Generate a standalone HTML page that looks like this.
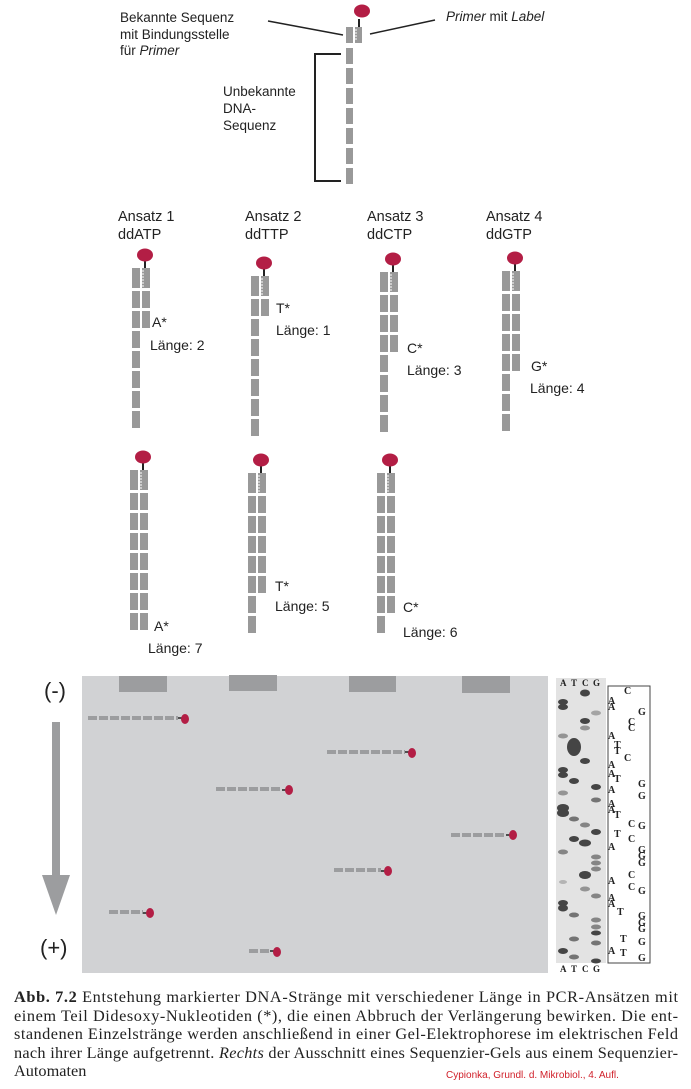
<!DOCTYPE html>
<html><head><meta charset="utf-8"><style>
html,body{margin:0;padding:0;background:#fff;}
svg{display:block;}
.s{font-family:"Liberation Sans",sans-serif;fill:#222;}
.r{font-family:"Liberation Serif",serif;fill:#222;}
</style></head><body>
<svg width="691" height="1089" viewBox="0 0 691 1089" xmlns="http://www.w3.org/2000/svg">
<defs>
<g id="p">
  <line x1="13" y1="-8" x2="13" y2="0" stroke="#222" stroke-width="2"/>
  <ellipse cx="13" cy="-13" rx="8" ry="6.5" fill="#b31e45"/>
  <rect x="0" y="0" width="8" height="20" fill="#999"/>
  <rect x="10" y="0" width="8" height="20" fill="#999"/>
  <path d="M10 3h2M10 6h2M10 9h2M10 12h2M10 15h2M10 18h2" stroke="#fff" stroke-width="1"/>
</g>
<rect id="t" x="0" y="0" width="8" height="17" fill="#999"/>
<g id="col7">
  <use href="#t" y="23"/><use href="#t" y="43"/><use href="#t" y="63"/><use href="#t" y="83"/>
  <use href="#t" y="103"/><use href="#t" y="123"/><use href="#t" y="143"/>
</g>
</defs>

<!-- top diagram -->
<g transform="translate(346,27)">
  <line x1="13" y1="-8" x2="13" y2="0" stroke="#222" stroke-width="2"/>
  <ellipse cx="16" cy="-16" rx="8" ry="6.5" fill="#b31e45"/>
  <rect x="0" y="0" width="7" height="16" fill="#999"/>
  <rect x="9" y="0" width="7" height="16" fill="#999"/>
  <path d="M9 3h2M9 6h2M9 9h2M9 12h2" stroke="#fff"/>
  <rect x="0" y="21" width="7" height="16" fill="#999"/>
  <rect x="0" y="41" width="7" height="16" fill="#999"/>
  <rect x="0" y="61" width="7" height="16" fill="#999"/>
  <rect x="0" y="81" width="7" height="16" fill="#999"/>
  <rect x="0" y="101" width="7" height="16" fill="#999"/>
  <rect x="0" y="121" width="7" height="16" fill="#999"/>
  <rect x="0" y="141" width="7" height="16" fill="#999"/>
</g>
<line x1="268" y1="21" x2="343" y2="35" stroke="#222" stroke-width="1.5"/>
<line x1="370" y1="34" x2="435" y2="20" stroke="#222" stroke-width="1.5"/>
<path d="M341 54H315V181H341" fill="none" stroke="#222" stroke-width="2"/>
<text class="s" font-size="13.5" x="120" y="22">Bekannte Sequenz</text>
<text class="s" font-size="13.5" x="120" y="39">mit Bindungsstelle</text>
<text class="s" font-size="13.5" x="120" y="55">für <tspan font-style="italic">Primer</tspan></text>
<text class="s" font-size="13.5" x="446" y="21"><tspan font-style="italic">Primer</tspan> mit <tspan font-style="italic">Label</tspan></text>
<text class="s" font-size="13.5" x="223" y="96">Unbekannte</text>
<text class="s" font-size="13.5" x="223" y="113">DNA-</text>
<text class="s" font-size="13.5" x="223" y="130">Sequenz</text>

<g class="s" font-size="14.5">
<text x="118" y="221">Ansatz  1</text><text x="118" y="239">ddATP</text>
<text x="245" y="221">Ansatz  2</text><text x="245" y="239">ddTTP</text>
<text x="367" y="221">Ansatz  3</text><text x="367" y="239">ddCTP</text>
<text x="486" y="221">Ansatz  4</text><text x="486" y="239">ddGTP</text>
</g>

<g transform="translate(132,268)"><use href="#p"/><use href="#col7"/>
  <use href="#t" x="10" y="23"/><use href="#t" x="10" y="43"/></g>
<g transform="translate(251,276)"><use href="#p"/><use href="#col7"/>
  <use href="#t" x="10" y="23"/></g>
<g transform="translate(380,272)"><use href="#p"/><use href="#col7"/>
  <use href="#t" x="10" y="23"/><use href="#t" x="10" y="43"/><use href="#t" x="10" y="63"/></g>
<g transform="translate(502,271)"><use href="#p"/><use href="#col7"/>
  <use href="#t" x="10" y="23"/><use href="#t" x="10" y="43"/><use href="#t" x="10" y="63"/><use href="#t" x="10" y="83"/></g>

<g transform="translate(130,470)"><use href="#p"/><use href="#col7"/>
  <use href="#t" x="10" y="23"/><use href="#t" x="10" y="43"/><use href="#t" x="10" y="63"/><use href="#t" x="10" y="83"/><use href="#t" x="10" y="103"/><use href="#t" x="10" y="123"/><use href="#t" x="10" y="143"/></g>
<g transform="translate(248,473)"><use href="#p"/><use href="#col7"/>
  <use href="#t" x="10" y="23"/><use href="#t" x="10" y="43"/><use href="#t" x="10" y="63"/><use href="#t" x="10" y="83"/><use href="#t" x="10" y="103"/></g>
<g transform="translate(377,473)"><use href="#p"/><use href="#col7"/>
  <use href="#t" x="10" y="23"/><use href="#t" x="10" y="43"/><use href="#t" x="10" y="63"/><use href="#t" x="10" y="83"/><use href="#t" x="10" y="103"/><use href="#t" x="10" y="123"/></g>

<g class="s" font-size="14">
<text x="152" y="327">A*</text><text x="150" y="350">Länge:  2</text>
<text x="276" y="313">T*</text><text x="276" y="335">Länge:  1</text>
<text x="407" y="353">C*</text><text x="407" y="375">Länge:  3</text>
<text x="531" y="371">G*</text><text x="530" y="393">Länge:  4</text>
<text x="154" y="631">A*</text><text x="148" y="653">Länge:  7</text>
<text x="275" y="591">T*</text><text x="275" y="611">Länge:  5</text>
<text x="403" y="612">C*</text><text x="403" y="637">Länge:  6</text>
</g>

<rect x="82" y="676" width="466" height="297" fill="#d1d2d4"/>
<g fill="#9c9d9f">
<rect x="119" y="676" width="48" height="16"/>
<rect x="229" y="675" width="48" height="16"/>
<rect x="349" y="676" width="47" height="16"/>
<rect x="462" y="676" width="48" height="17"/>
</g>
<g stroke="#9c9d9f" stroke-width="4" stroke-dasharray="9,2">
<line x1="88" y1="718" x2="178" y2="718"/>
<line x1="327" y1="752" x2="405" y2="752"/>
<line x1="216" y1="789" x2="282" y2="789"/>
<line x1="451" y1="835" x2="506" y2="835"/>
<line x1="334" y1="870" x2="381" y2="870"/>
<line x1="109" y1="912" x2="143" y2="912"/>
<line x1="249" y1="951" x2="270" y2="951"/>
</g>
<g stroke="#222" stroke-width="1.5">
<line x1="178" y1="718" x2="184" y2="718"/><line x1="405" y1="752" x2="411" y2="752"/>
<line x1="282" y1="790" x2="288" y2="790"/><line x1="506" y1="835" x2="512" y2="835"/>
<line x1="381" y1="871" x2="387" y2="871"/><line x1="143" y1="913" x2="149" y2="913"/>
<line x1="270" y1="951" x2="276" y2="951"/>
</g>
<g fill="#b31e45">
<ellipse cx="185" cy="719" rx="4" ry="5"/><ellipse cx="412" cy="753" rx="4" ry="5"/>
<ellipse cx="289" cy="790" rx="4" ry="5"/><ellipse cx="513" cy="835" rx="4" ry="5"/>
<ellipse cx="388" cy="871" rx="4" ry="5"/><ellipse cx="150" cy="913" rx="4" ry="5"/>
<ellipse cx="277" cy="952" rx="4" ry="5"/>
</g>
<rect x="52" y="722" width="8" height="155" fill="#9c9d9f"/>
<polygon points="42,875 70,875 56,915" fill="#9c9d9f"/>
<text class="s" font-size="22" x="44" y="698">(-)</text>
<text class="s" font-size="22" x="40" y="955">(+)</text>

<rect x="556" y="678" width="50" height="285" fill="#e3e3e3"/>
<g fill="#2a2a2a" opacity="0.85">
<ellipse cx="563" cy="702" rx="5" ry="3"/><ellipse cx="563" cy="707" rx="5" ry="3"/><ellipse cx="563" cy="736" rx="5" ry="2.5" opacity=".5"/>
<ellipse cx="563" cy="770" rx="5" ry="3"/><ellipse cx="563" cy="775" rx="5" ry="3"/><ellipse cx="563" cy="793" rx="5" ry="2.5" opacity=".5"/>
<ellipse cx="563" cy="808" rx="6" ry="4"/><ellipse cx="563" cy="813" rx="6" ry="4"/><ellipse cx="563" cy="852" rx="5" ry="2.5" opacity=".6"/>
<ellipse cx="563" cy="882" rx="4" ry="2" opacity=".3"/><ellipse cx="563" cy="903" rx="5" ry="3"/><ellipse cx="563" cy="908" rx="5" ry="3.5"/>
<ellipse cx="563" cy="951" rx="5" ry="3"/>
<ellipse cx="574" cy="747" rx="7" ry="9"/><ellipse cx="574" cy="781" rx="5" ry="3"/><ellipse cx="574" cy="819" rx="5" ry="2.5" opacity=".7"/>
<ellipse cx="574" cy="839" rx="5" ry="3"/><ellipse cx="574" cy="915" rx="5" ry="2.5" opacity=".7"/><ellipse cx="574" cy="939" rx="5" ry="2.5" opacity=".7"/><ellipse cx="574" cy="957" rx="5" ry="2.5" opacity=".7"/>
<ellipse cx="585" cy="693" rx="5" ry="3.5"/><ellipse cx="585" cy="721" rx="5" ry="3"/><ellipse cx="585" cy="728" rx="5" ry="2.5" opacity=".5"/>
<ellipse cx="585" cy="761" rx="5" ry="3"/><ellipse cx="585" cy="825" rx="5" ry="2.5" opacity=".6"/><ellipse cx="585" cy="843" rx="6" ry="3.5"/>
<ellipse cx="585" cy="875" rx="6" ry="4"/><ellipse cx="585" cy="889" rx="5" ry="2.5" opacity=".5"/>
<ellipse cx="596" cy="713" rx="5" ry="2.5" opacity=".4"/><ellipse cx="596" cy="787" rx="5" ry="3"/><ellipse cx="596" cy="800" rx="5" ry="2.5" opacity=".7"/>
<ellipse cx="596" cy="832" rx="5" ry="3"/><ellipse cx="596" cy="857" rx="5" ry="2.5" opacity=".6"/><ellipse cx="596" cy="863" rx="5" ry="2.5" opacity=".6"/>
<ellipse cx="596" cy="869" rx="5" ry="2.5" opacity=".6"/><ellipse cx="596" cy="896" rx="5" ry="2.5" opacity=".6"/><ellipse cx="596" cy="920" rx="5" ry="2.5" opacity=".6"/>
<ellipse cx="596" cy="927" rx="5" ry="2.5" opacity=".6"/><ellipse cx="596" cy="933" rx="5" ry="2.5"/><ellipse cx="596" cy="943" rx="5" ry="2.5" opacity=".7"/><ellipse cx="596" cy="961" rx="5" ry="2.5"/>
</g>
<g class="r" font-size="9" font-weight="bold">
<text x="560" y="686">A</text><text x="571" y="686">T</text><text x="582" y="686">C</text><text x="593" y="686">G</text>
<text x="560" y="972">A</text><text x="571" y="972">T</text><text x="582" y="972">C</text><text x="593" y="972">G</text>
</g>
<rect x="608" y="686" width="42" height="277" fill="none" stroke="#444" stroke-width="1"/>
<g class="r" font-size="10" font-weight="bold">
<text x="624" y="694">C</text>
<text x="608" y="704">A</text><text x="608" y="710">A</text><text x="638" y="715">G</text>
<text x="628" y="725">C</text><text x="628" y="731">C</text>
<text x="608" y="739">A</text><text x="614" y="748">T</text><text x="614" y="754">T</text><text x="624" y="761">C</text>
<text x="608" y="768">A</text><text x="608" y="777">A</text><text x="614" y="782">T</text><text x="638" y="787">G</text>
<text x="608" y="793">A</text><text x="638" y="799">G</text>
<text x="608" y="807">A</text><text x="608" y="813">A</text><text x="614" y="818">T</text>
<text x="628" y="827">C</text><text x="638" y="829">G</text>
<text x="614" y="837">T</text><text x="628" y="842">C</text>
<text x="608" y="850">A</text>
<text x="638" y="853">G</text><text x="638" y="859">G</text><text x="638" y="866">G</text>
<text x="628" y="878">C</text><text x="608" y="884">A</text><text x="628" y="890">C</text><text x="638" y="894">G</text>
<text x="608" y="901">A</text><text x="608" y="907">A</text><text x="617" y="915">T</text>
<text x="638" y="919">G</text><text x="638" y="926">G</text><text x="638" y="932">G</text>
<text x="620" y="942">T</text><text x="638" y="945">G</text>
<text x="608" y="954">A</text><text x="620" y="956">T</text><text x="638" y="961">G</text>
</g>

<g class="r" font-size="16.3">
<text x="14" y="1002" textLength="664" lengthAdjust="spacing"><tspan font-weight="bold">Abb. 7.2</tspan>  Entstehung markierter DNA-Stränge mit verschiedener Länge in PCR-Ansätzen mit</text>
<text x="14" y="1021" textLength="664" lengthAdjust="spacing">einem Teil Didesoxy-Nukleotiden (*), die einen Abbruch der Verlängerung bewirken. Die ent-</text>
<text x="14" y="1039" textLength="664" lengthAdjust="spacing">standenen Einzelstränge werden anschließend in einer Gel-Elektrophorese im elektrischen Feld</text>
<text x="14" y="1058" textLength="664" lengthAdjust="spacing">nach ihrer Länge aufgetrennt. <tspan font-style="italic">Rechts</tspan> der Ausschnitt eines Sequenzier-Gels aus einem Sequenzier-</text>
<text x="14" y="1076">Automaten</text>
</g>
<text x="446" y="1078" font-family="Liberation Sans, sans-serif" font-size="10" fill="#d0202a">Cypionka, Grundl. d. Mikrobiol., 4. Aufl.</text>
</svg>
</body></html>
